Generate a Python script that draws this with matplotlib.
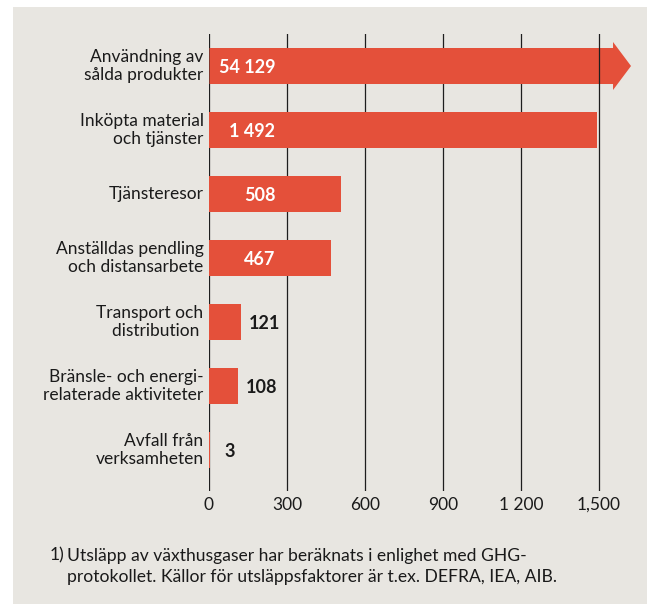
import matplotlib
matplotlib.use("Agg")
import matplotlib.pyplot as plt
from matplotlib.patches import Rectangle, Polygon

categories = ["Användning av\nsålda produkter", "Inköpta material\noch tjänster", "Tjänsteresor",
              "Anställdas pendling\noch distansarbete", "Transport och\ndistribution ",
              "Bränsle- och energi-\nrelaterade aktiviteter", "Avfall från\nverksamheten"]
values = [54129, 1492, 508, 467, 121, 108, 3]
value_labels = ["54 129", "1 492", "508", "467", "121", "108", "3"]
tick_values = [0, 300, 600, 900, 1200, 1500]
tick_labels = ["0", "300", "600", "900", "1 200", "1,500"]
footnote = "Utsläpp av växthusgaser har beräknats i enlighet med GHG-\nprotokollet. Källor för utsläppsfaktorer är t.ex. DEFRA, IEA, AIB."

RED = "#e4503a"
BG = "#e8e6e1"
TXT = "#1a1a1a"
FONT = "Lato"

W, H = 647, 604
fig = plt.figure(figsize=(W / 100, H / 100), dpi=100)
fig.patch.set_facecolor("white")
fig.patches.append(Rectangle((13 / W, 0), 1 - 13 / W, (H - 7) / H, transform=fig.transFigure,
                             facecolor=BG, edgecolor="none", zorder=-5))

px_per = 390 / 1500
x0, x1 = 209, 640
ytop, ybot = 34, 491
ax = fig.add_axes([x0 / W, 1 - ybot / H, (x1 - x0) / W, (ybot - ytop) / H])
ax.set_facecolor("none")
ax.set_zorder(2)
xmax = (x1 - x0) / px_per
ax.set_xlim(-0.5 / px_per, xmax)
ax.set_ylim(6.64, -0.5)
for s in ax.spines.values():
    s.set_visible(False)
ax.set_yticks([])
ax.set_xticks([])

for t in tick_values:
    ax.axvline(t, color="#1e1e1e", lw=0.9, zorder=1 if t != 1500 else 4)

axis_max = tick_values[-1]
bh = 0.5625
label_x = (275 - x0) / px_per
for i, (v, lab) in enumerate(zip(values, value_labels)):
    if v > axis_max:
        body_end = (613 - x0) / px_per
        tip = (631 - x0) / px_per
        ax.add_patch(Polygon([(0, i - bh / 2), (body_end, i - bh / 2), (body_end, i - 0.375),
                              (tip, i), (body_end, i + 0.375), (body_end, i + bh / 2), (0, i + bh / 2)],
                             closed=True, facecolor=RED, edgecolor="none", zorder=2))
    else:
        ax.barh(i, v, height=bh, color=RED, zorder=2, linewidth=0)
    inside = v * px_per > 75
    if inside:
        ax.text(label_x, i + 0.02, lab, ha="right", va="center", fontsize=13, fontweight="bold",
                family=FONT, color="white", zorder=5)
    else:
        lx = max(v + 8 / px_per, 15 / px_per)
        ax.text(lx, i + 0.02, lab, ha="left", va="center", fontsize=13, fontweight="bold",
                family=FONT, color=TXT, zorder=5)
    ax.text(-6 / px_per, i, categories[i], ha="right", va="center", fontsize=12.5, family=FONT,
            color=TXT, linespacing=1.15, clip_on=False)

for t, lab in zip(tick_values, tick_labels):
    fig.text((x0 + t * px_per) / W, 1 - 505 / H, lab, ha="center", va="center", fontsize=12.5,
             family=FONT, color=TXT)

fig.text(50 / W, 1 - 555 / H, "1)", ha="left", va="center", fontsize=12.6, family=FONT, color=TXT)
fig.text(67 / W, 1 - 566.5 / H, footnote, ha="left", va="center", fontsize=12.6, family=FONT,
         color=TXT, linespacing=1.4)

fig.savefig("out.png", dpi=100, facecolor=fig.get_facecolor())
